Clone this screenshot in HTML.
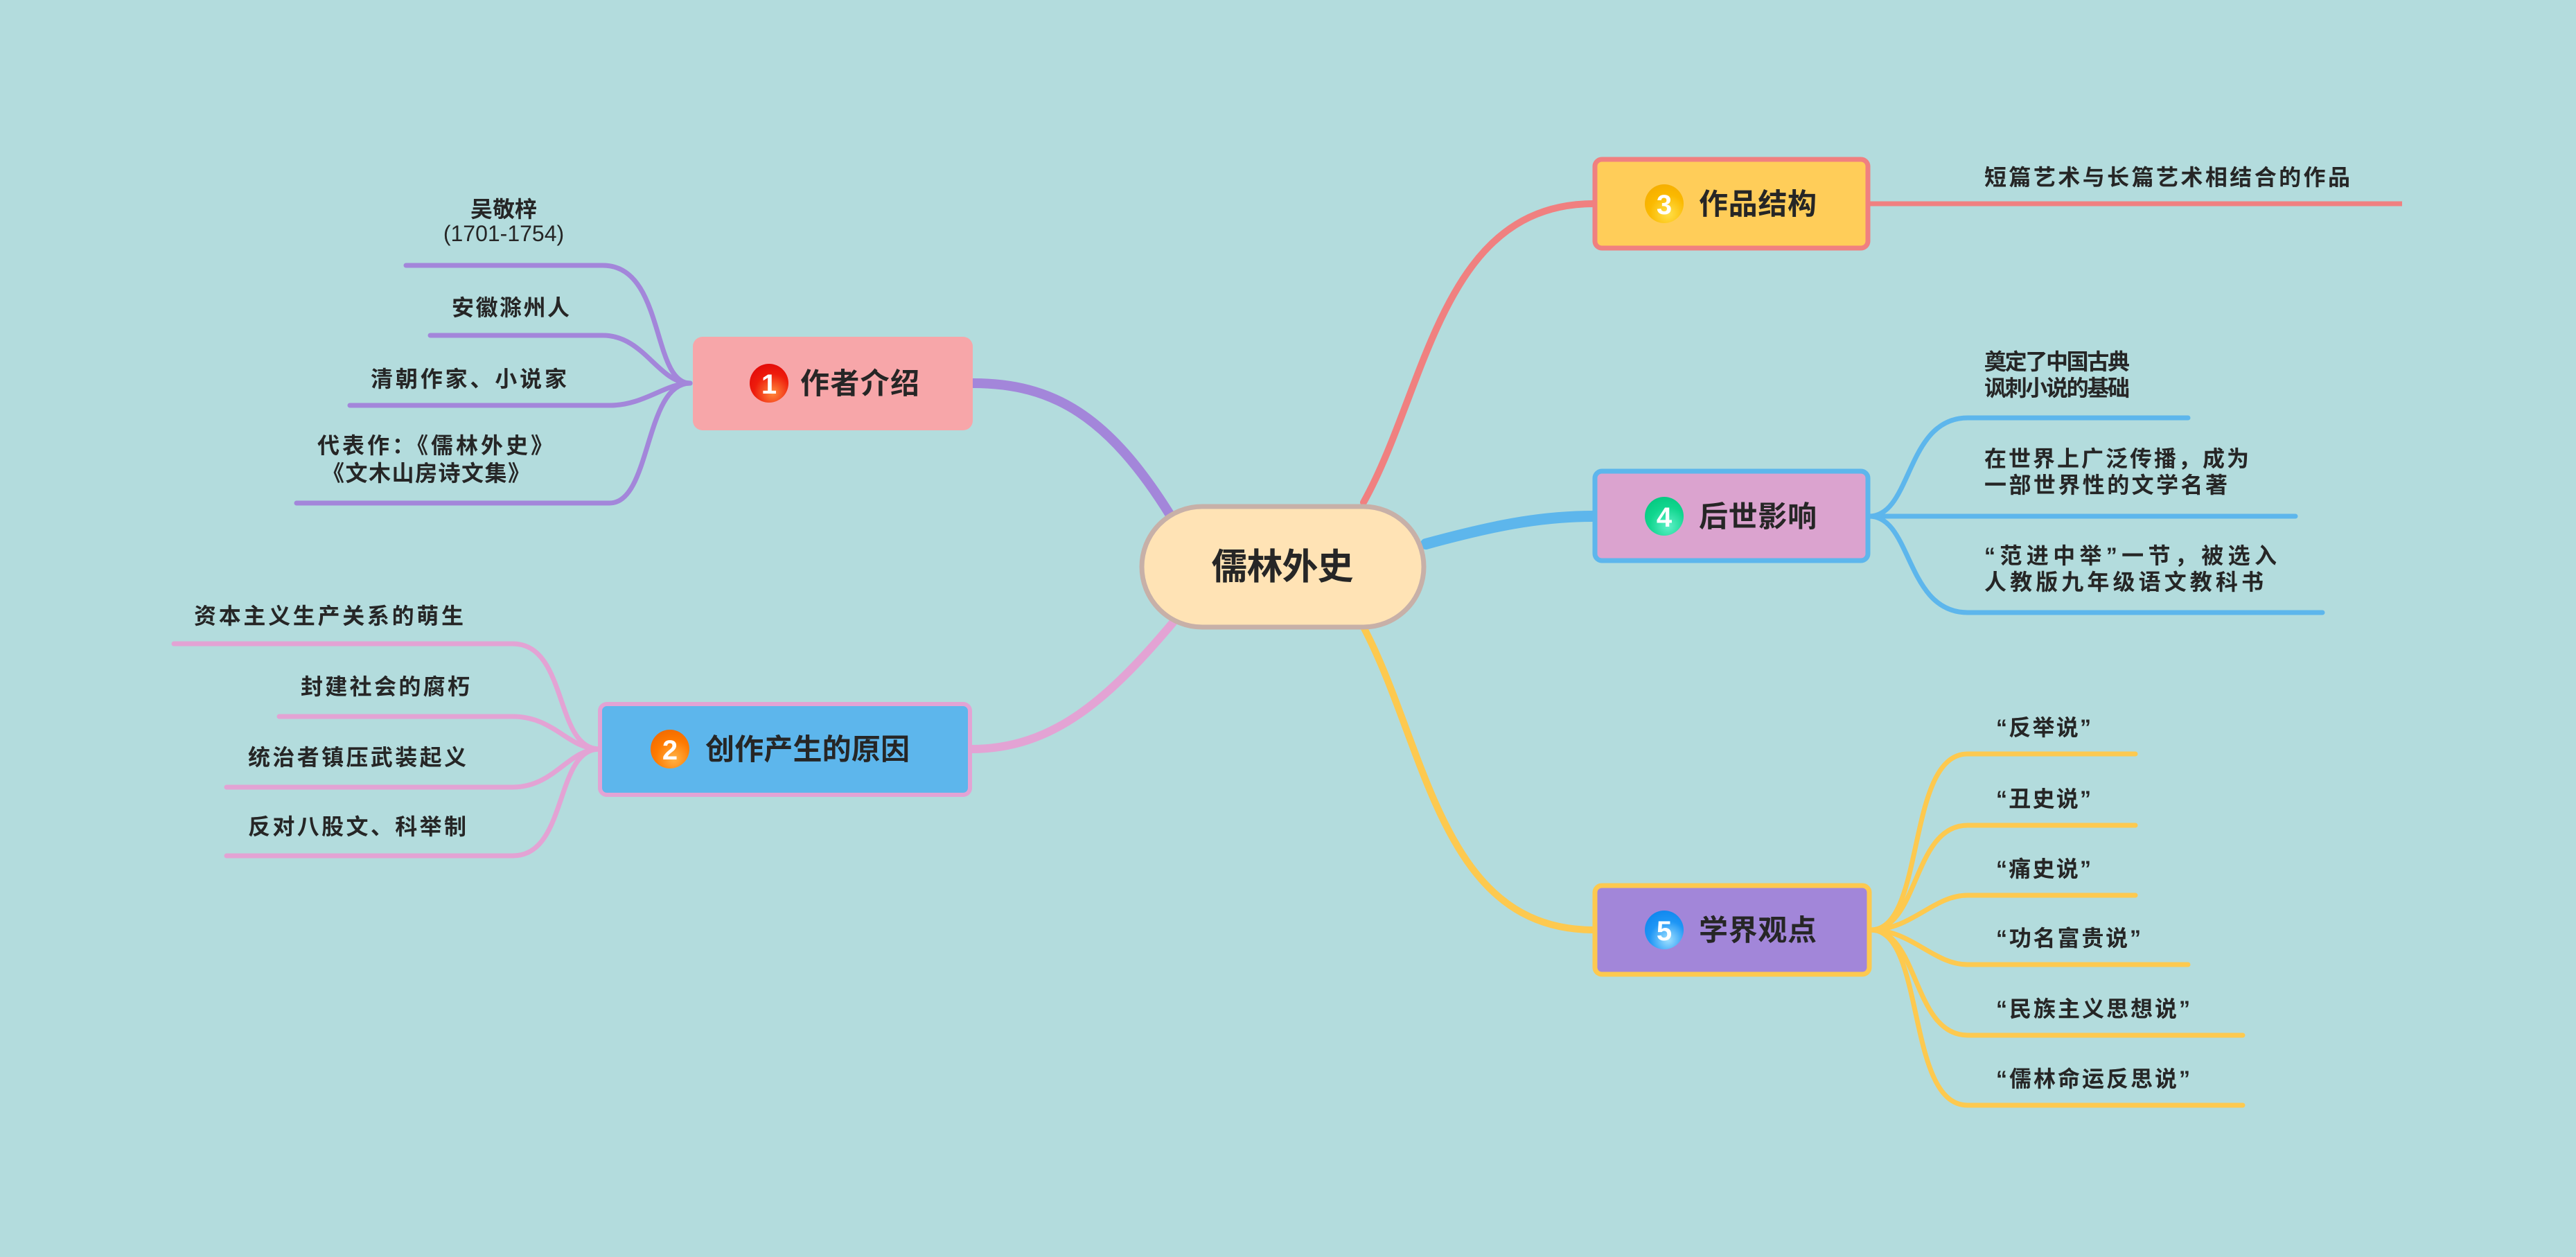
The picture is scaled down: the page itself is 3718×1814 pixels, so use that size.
<!DOCTYPE html>
<html><head><meta charset="utf-8"><style>
html,body{margin:0;padding:0;background:#b3dcdd;}
svg{display:block;}
text{font-family:"Liberation Sans","Noto Sans CJK SC",sans-serif;fill:#262626;font-weight:bold;}
</style></head><body>
<svg width="3718" height="1814" viewBox="0 0 3718 1814" xmlns="http://www.w3.org/2000/svg">
<defs>
<radialGradient id="g1" cx="0.6" cy="0.75" r="0.8"><stop offset="0" stop-color="#ff8a3c"/><stop offset="0.6" stop-color="#ee1c0c"/><stop offset="1" stop-color="#e20a0a"/></radialGradient>
<radialGradient id="g2" cx="0.6" cy="0.75" r="0.8"><stop offset="0" stop-color="#ffb347"/><stop offset="0.6" stop-color="#ff7a00"/><stop offset="1" stop-color="#f06a00"/></radialGradient>
<radialGradient id="g3" cx="0.6" cy="0.75" r="0.8"><stop offset="0" stop-color="#ffe04a"/><stop offset="0.6" stop-color="#fbb900"/><stop offset="1" stop-color="#f5ad00"/></radialGradient>
<radialGradient id="g4" cx="0.6" cy="0.75" r="0.8"><stop offset="0" stop-color="#5ff0c8"/><stop offset="0.6" stop-color="#10d68e"/><stop offset="1" stop-color="#05c880"/></radialGradient>
<radialGradient id="g5" cx="0.6" cy="0.75" r="0.8"><stop offset="0" stop-color="#9fe0ff"/><stop offset="0.6" stop-color="#1e96f5"/><stop offset="1" stop-color="#0f86ee"/></radialGradient>
</defs>
<rect width="3718" height="1814" fill="#b3dcdd"/>

<g fill="none" stroke-linecap="round">
<path d="M1690,745 C1600,600 1520,553 1404,553" stroke="#a386da" stroke-width="14"/>
<path d="M1700,890 C1600,1010 1520,1081 1401,1081" stroke="#e3a3d4" stroke-width="12"/>
<path d="M1968,725 C2060,560 2080,294 2300,294" stroke="#f08080" stroke-width="10"/>
<path d="M2058,785 C2150,760 2220,745 2300,745" stroke="#5db6ec" stroke-width="16"/>
<path d="M1968,905 C2060,1080 2080,1342 2300,1342" stroke="#fdc94f" stroke-width="10"/>
</g>

<g fill="none" stroke="#a386da" stroke-width="7" stroke-linecap="round">
<path d="M586,383 H870 C960,383 940,553 996,553"/>
<path d="M621,484 H870 C930,484 950,553 996,553"/>
<path d="M505,585 H880 C930,585 960,553 996,553"/>
<path d="M428,726 H880 C940,726 930,553 996,553"/>
</g>
<g fill="none" stroke="#e3a3d4" stroke-width="7" stroke-linecap="round">
<path d="M251,929 H740 C820,929 800,1081 865,1081"/>
<path d="M403,1034 H740 C800,1034 820,1081 865,1081"/>
<path d="M327,1136 H740 C800,1136 820,1081 865,1081"/>
<path d="M327,1235 H740 C820,1235 800,1081 865,1081"/>
</g>
<path d="M2698,294 H3467" stroke="#f08080" stroke-width="7" fill="none"/>
<g fill="none" stroke="#5db6ec" stroke-width="7" stroke-linecap="round">
<path d="M2698,745 C2760,745 2750,603 2840,603 H3158"/>
<path d="M2698,745 H3313"/>
<path d="M2698,745 C2760,745 2750,884 2840,884 H3352"/>
</g>
<g fill="none" stroke="#fdc94f" stroke-width="7" stroke-linecap="round">
<path d="M2700,1342 C2780,1342 2750,1088 2840,1088 H3082"/>
<path d="M2700,1342 C2770,1342 2760,1191 2840,1191 H3082"/>
<path d="M2700,1342 C2760,1342 2790,1292 2840,1292 H3082"/>
<path d="M2700,1342 C2760,1342 2790,1392 2840,1392 H3158"/>
<path d="M2700,1342 C2770,1342 2760,1494 2840,1494 H3237"/>
<path d="M2700,1342 C2780,1342 2750,1595 2840,1595 H3237"/>
</g>

<rect x="1648" y="731" width="407" height="174" rx="87" fill="#ffe3b5" stroke="#c7b0a8" stroke-width="7"/>
<text x="1851" y="836" font-size="52" text-anchor="middle" textLength="205">儒林外史</text>

<rect x="1000" y="486" width="404" height="135" rx="14" fill="#f7a6a9"/>
<circle cx="1110" cy="553" r="28" fill="url(#g1)"/>
<text x="1110" y="568" font-size="40" style="fill:#fff" text-anchor="middle">1</text>
<text x="1155" y="568" font-size="42" textLength="172">作者介绍</text>

<rect x="866" y="1016" width="534" height="131" rx="10" fill="#5db6ec" stroke="#e3a3d4" stroke-width="6"/>
<circle cx="967" cy="1081" r="28" fill="url(#g2)"/>
<text x="967" y="1096" font-size="40" style="fill:#fff" text-anchor="middle">2</text>
<text x="1018" y="1096" font-size="42" textLength="295">创作产生的原因</text>

<rect x="2302" y="230" width="394" height="128" rx="10" fill="#ffcd59" stroke="#f08080" stroke-width="7"/>
<circle cx="2402" cy="294" r="28" fill="url(#g3)"/>
<text x="2402" y="309" font-size="40" style="fill:#fff" text-anchor="middle">3</text>
<text x="2452" y="309" font-size="42" textLength="170">作品结构</text>

<rect x="2302" y="680" width="394" height="129" rx="10" fill="#dba3cf" stroke="#5db6ec" stroke-width="7"/>
<circle cx="2402" cy="745" r="28" fill="url(#g4)"/>
<text x="2402" y="760" font-size="40" style="fill:#fff" text-anchor="middle">4</text>
<text x="2452" y="760" font-size="42" textLength="170">后世影响</text>

<rect x="2302" y="1278" width="396" height="128" rx="10" fill="#a286d9" stroke="#fdc94f" stroke-width="7"/>
<circle cx="2402" cy="1342" r="28" fill="url(#g5)"/>
<text x="2402" y="1357" font-size="40" style="fill:#fff" text-anchor="middle">5</text>
<text x="2452" y="1357" font-size="42" textLength="170">学界观点</text>

<g font-size="32">
<text x="727" y="313" text-anchor="middle">吴敬梓</text>
<text x="727" y="348" text-anchor="middle" style="font-weight:normal">(1701-1754)</text>
<text x="652" y="455" textLength="170">安徽滁州人</text>
<text x="535" y="558" textLength="283">清朝作家、小说家</text>
<text x="458" y="654" textLength="340">代表作：《儒林外史》</text>
<text x="465" y="694" textLength="300">《文木山房诗文集》</text>
</g>
<g font-size="32">
<text x="280" y="900" textLength="389">资本主义生产关系的萌生</text>
<text x="434" y="1002" textLength="244">封建社会的腐朽</text>
<text x="358" y="1104" textLength="315">统治者镇压武装起义</text>
<text x="358" y="1204" textLength="315">反对八股文、科举制</text>
</g>
<text x="2864" y="267" font-size="32" textLength="528">短篇艺术与长篇艺术相结合的作品</text>
<g font-size="32">
<text x="2864" y="533" textLength="210">奠定了中国古典</text>
<text x="2864" y="571" textLength="210">讽刺小说的基础</text>
<text x="2864" y="673" textLength="382">在世界上广泛传播，成为</text>
<text x="2864" y="711" textLength="351">一部世界性的文学名著</text>
<text x="2864" y="813" textLength="422">“范进中举”一节，被选入</text>
<text x="2864" y="851" textLength="403">人教版九年级语文教科书</text>
</g>
<g font-size="32">
<text x="2881" y="1061" textLength="137">“反举说”</text>
<text x="2881" y="1164" textLength="137">“丑史说”</text>
<text x="2881" y="1265" textLength="137">“痛史说”</text>
<text x="2881" y="1365" textLength="209">“功名富贵说”</text>
<text x="2881" y="1467" textLength="280">“民族主义思想说”</text>
<text x="2881" y="1568" textLength="280">“儒林命运反思说”</text>
</g>
</svg>
</body></html>
